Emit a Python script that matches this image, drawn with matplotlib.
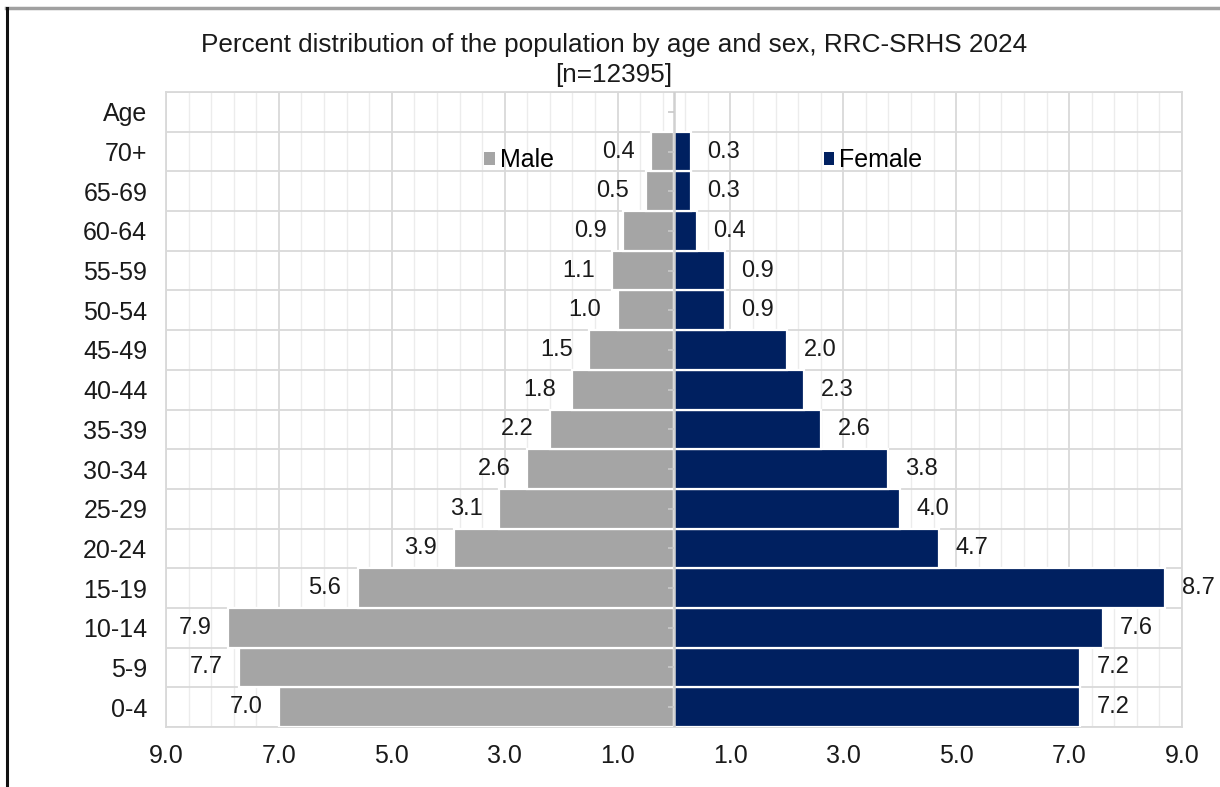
import numpy as np
import matplotlib.pyplot as plt
from matplotlib.patches import Patch
from matplotlib.lines import Line2D

plt.rcParams['font.family'] = ['Liberation Sans', 'DejaVu Sans']

ages = ['0-4', '5-9', '10-14', '15-19', '20-24', '25-29', '30-34', '35-39',
        '40-44', '45-49', '50-54', '55-59', '60-64', '65-69', '70+']
male = [7.0, 7.7, 7.9, 5.6, 3.9, 3.1, 2.6, 2.2, 1.8, 1.5, 1.0, 1.1, 0.9, 0.5, 0.4]
female = [7.2, 7.2, 7.6, 8.7, 4.7, 4.0, 3.8, 2.6, 2.3, 2.0, 0.9, 0.9, 0.4, 0.3, 0.3]
x_ticks = [-9, -7, -5, -3, -1, 1, 3, 5, 7, 9]

male_color = '#a5a5a5'
female_color = '#002060'
grid_major = '#d9d9d9'
grid_minor = '#ececec'
fs = 18

fig = plt.figure(figsize=(12.2, 7.87), dpi=100)
ax = fig.add_axes([166 / 1220, 1 - 727 / 787, 1016 / 1220, 635 / 787])

# extra top row holds the "Age" header
labels = ages + ['Age']
y = np.arange(len(ages))

ax.barh(y, -np.array(male), height=1.0, color=male_color, edgecolor='white',
        linewidth=1.6, zorder=3, label='Male')
ax.barh(y, female, height=1.0, color=female_color, edgecolor='white',
        linewidth=1.6, zorder=3, label='Female')

for yi, m, f in zip(y, male, female):
    ax.annotate(f'{m:.1f}', (-m, yi), xytext=(-12, 0), textcoords='offset points',
                ha='right', va='center', fontsize=17, color='#1a1a1a')
    ax.annotate(f'{f:.1f}', (f, yi), xytext=(12, 0), textcoords='offset points',
                ha='left', va='center', fontsize=17, color='#1a1a1a')

# centre axis with small left-pointing ticks
ax.axvline(0, color='#d0d0d0', lw=1.8, zorder=4)
ax.plot(np.zeros(len(labels)), np.arange(len(labels)), ls='none', marker=0,
        ms=4, mew=1.2, color='#c8c8c8', zorder=4)

ax.set_xlim(-9, 9)
ax.set_ylim(-0.5, len(labels) - 0.5)
ax.set_xticks(x_ticks)
ax.set_xticklabels([f'{abs(v):.1f}' for v in x_ticks])
ax.set_xticks(np.arange(-9, 9.01, 0.4), minor=True)
ax.set_yticks(np.arange(len(labels)))
ax.set_yticklabels(labels)
ax.set_yticks(np.arange(len(labels) + 1) - 0.5, minor=True)

ax.grid(True, which='major', axis='x', color=grid_major, lw=1.3, zorder=0)
ax.grid(True, which='minor', axis='x', color=grid_minor, lw=1.0, zorder=0)
ax.grid(True, which='minor', axis='y', color=grid_major, lw=1.3, zorder=0)
ax.set_axisbelow(True)
for s in ax.spines.values():
    s.set_color(grid_major)
    s.set_linewidth(1.3)

ax.tick_params(axis='both', which='both', length=0, labelsize=fs,
               labelcolor='#1a1a1a')
ax.tick_params(axis='x', pad=12)
ax.tick_params(axis='y', pad=13.5)

handles = [Patch(facecolor=male_color, edgecolor='none', label='Male'),
           Patch(facecolor=female_color, edgecolor='none', label='Female')]
ax.legend(handles=handles, ncol=2, loc='center left',
          bbox_to_anchor=(484 / 1220, 1 - 160 / 787), bbox_transform=fig.transFigure,
          frameon=False, fontsize=fs, handlelength=0.42, handleheight=0.42,
          handletextpad=0.2, columnspacing=10.8, borderpad=0, borderaxespad=0)

fig.text(0.503, 1 - 45 / 787, 'Percent distribution of the population by age and sex, RRC-SRHS 2024',
         ha='center', va='center', fontsize=18.8, color='#1a1a1a')
fig.text(0.503, 1 - 75 / 787, '[n=12395]', ha='center', va='center',
         fontsize=18.8, color='#1a1a1a')

# outer frame: grey top edge, dark left edge
fig.add_artist(Line2D([6 / 1220, 1], [1 - 8 / 787, 1 - 8 / 787], color='#a0a0a0',
                      lw=2.5, transform=fig.transFigure))
fig.add_artist(Line2D([7 / 1220, 7 / 1220], [0, 1 - 8 / 787], color='#111111',
                      lw=2.2, transform=fig.transFigure))

fig.savefig('out.png', dpi=100)
